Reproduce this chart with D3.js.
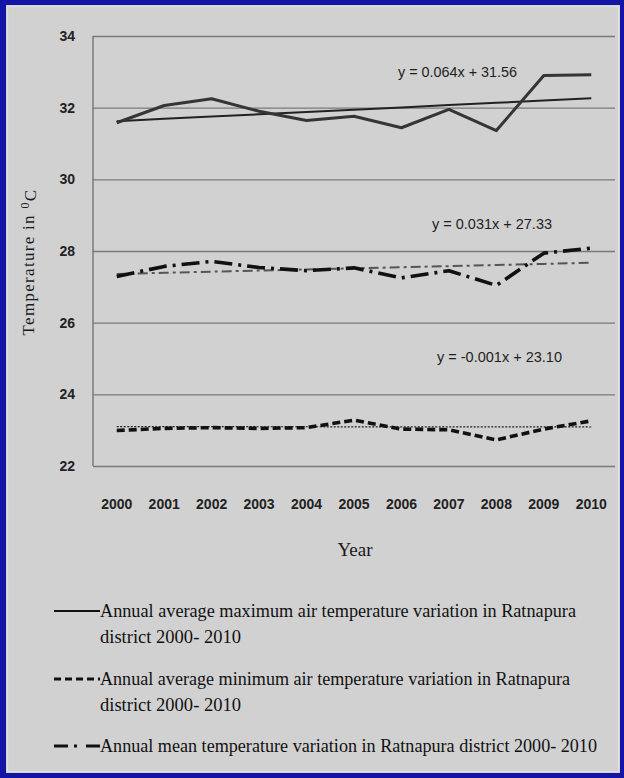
<!DOCTYPE html>
<html>
<head>
<meta charset="utf-8">
<script src="https://cdn.jsdelivr.net/npm/d3@7"></script>
<style>
  html, body { margin: 0; padding: 0; background: #fff; }
  svg { display: block; }
</style>
</head>
<body>
<div id="chart"></div>
<script>
// Ratnapura district annual temperatures, 2000-2010
const years = ["2000","2001","2002","2003","2004","2005","2006","2007","2008","2009","2010"];
const maxTemp  = [31.58, 32.06, 32.25, 31.90, 31.64, 31.76, 31.44, 31.95, 31.36, 32.90, 32.92];
const meanTemp = [27.29, 27.57, 27.71, 27.54, 27.45, 27.53, 27.25, 27.45, 27.04, 27.94, 28.08];
const minTemp  = [22.99, 23.05, 23.07, 23.05, 23.07, 23.28, 23.03, 23.01, 22.73, 23.03, 23.26];

// Linear trend coefficients (x = 1 .. 11)
const trendSlopes     = [0.064, 0.031, -0.001];
const trendIntercepts = [31.56, 27.33, 23.10];
const trendLabels     = ["y = 0.064x + 31.56", "y = 0.031x + 27.33", "y = -0.001x + 23.10"];

const yTicks = [22, 24, 26, 28, 30, 32, 34];

const legendLines = [
  ["Annual average maximum air temperature variation in Ratnapura", "district 2000- 2010"],
  ["Annual average minimum air temperature variation in Ratnapura", "district 2000- 2010"],
  ["Annual mean temperature variation in Ratnapura district 2000- 2010"]
];

const W = 624, H = 778;
const svg = d3.select("#chart").append("svg").attr("width", W).attr("height", H);

// frame
svg.append("rect").attr("x", 0).attr("y", 0).attr("width", W).attr("height", H).attr("fill", "#1414a6");
svg.append("rect").attr("x", 6).attr("y", 5).attr("width", W - 10).attr("height", H - 10).attr("fill", "#d1d1d1");
svg.append("rect").attr("x", 7.5).attr("y", 6.5).attr("width", W - 13).attr("height", H - 13)
  .attr("fill", "none").attr("stroke", "#dedede").attr("stroke-width", 1.5);

const plot = { left: 93, right: 615, top: 36, bottom: 466 };

const x = d3.scaleBand().domain(years).range([plot.left, plot.right]);
const xc = d => x(d) + x.bandwidth() / 2;
const y = d3.scaleLinear().domain([22, 34]).range([plot.bottom, plot.top]);

const sansFont = "'Liberation Sans', Arial, sans-serif";
const serifFont = "'Liberation Serif', 'Times New Roman', serif";

// gridlines and y tick labels
const yAxis = d3.axisLeft(y).tickValues(yTicks).tickSize(-(plot.right - plot.left)).tickPadding(18).tickFormat(d3.format("d"));
const gy = svg.append("g").attr("transform", `translate(${plot.left},0)`).call(yAxis);
gy.select(".domain").remove();
gy.selectAll(".tick line").attr("stroke", "#7a7a7a").attr("stroke-width", 1.4);
gy.selectAll(".tick text").attr("fill", "#222").style("font-family", sansFont)
  .style("font-size", "14px").style("font-weight", "bold");

// vertical axis line
svg.append("line").attr("x1", plot.left).attr("x2", plot.left).attr("y1", plot.top).attr("y2", plot.bottom)
  .attr("stroke", "#6e6e6e").attr("stroke-width", 1.3);

// x tick labels
const xAxis = d3.axisBottom(x).tickSize(0).tickPadding(0);
const gx = svg.append("g").attr("transform", `translate(0,${plot.bottom + 39})`).call(xAxis);
gx.select(".domain").remove();
gx.selectAll(".tick text").attr("fill", "#222").style("font-family", sansFont)
  .style("font-size", "14px").style("font-weight", "bold").attr("dy", "0.3em");

// axis titles
svg.append("text").attr("x", 355).attr("y", 556).attr("text-anchor", "middle")
  .style("font-family", serifFont).style("font-size", "19px").attr("fill", "#1a1a1a").text("Year");

const yt = svg.append("text").attr("transform", "translate(34,262) rotate(-90)").attr("text-anchor", "middle")
  .style("font-family", serifFont).style("font-size", "17px").attr("fill", "#1a1a1a")
  .style("letter-spacing", "1.3px");
yt.append("tspan").text("Temperature in  ");
yt.append("tspan").attr("dy", "-0.45em").style("font-size", "12px").text("0");
yt.append("tspan").attr("dy", "0.45em").text("C");

// series
const line = d3.line().x((d, i) => xc(years[i])).y(d => y(d));
const trendPts = k => years.map((yr, i) => trendIntercepts[k] + trendSlopes[k] * (i + 1));

const styles = {
  max:  { stroke: "#353535", width: 3, dash: null },
  min:  { stroke: "#111", width: 3.6, dash: "8,4" },
  mean: { stroke: "#111", width: 3.6, dash: "18,6,3,6" }
};

// trend lines
svg.append("path").attr("d", line(trendPts(0))).attr("fill", "none")
  .attr("stroke", "#222").attr("stroke-width", 2);
svg.append("path").attr("d", line(trendPts(1))).attr("fill", "none")
  .attr("stroke", "#555").attr("stroke-width", 2).attr("stroke-dasharray", "10,4,3,4");
svg.append("path").attr("d", line(trendPts(2))).attr("fill", "none")
  .attr("stroke", "#222").attr("stroke-width", 1.2).attr("stroke-dasharray", "2,1.5");

// data lines
[[maxTemp, styles.max], [meanTemp, styles.mean], [minTemp, styles.min]].forEach(([vals, s]) => {
  svg.append("path").attr("d", line(vals)).attr("fill", "none")
    .attr("stroke", s.stroke).attr("stroke-width", s.width)
    .attr("stroke-dasharray", s.dash).attr("stroke-linejoin", "round");
});

// trend equations
const eqPos = [[398, 77, 119], [432, 229, 120], [437, 362, 125]];
trendLabels.forEach((t, i) => {
  svg.append("text").attr("x", eqPos[i][0]).attr("y", eqPos[i][1])
    .attr("textLength", eqPos[i][2]).attr("lengthAdjust", "spacingAndGlyphs")
    .style("font-family", sansFont).style("font-size", "15px").attr("fill", "#1e1e1e").text(t);
});

// legend
const legY = [611, 679, 746];
const legWidths = [[476, 141], [470, 141], [497]];
const legDash = [null, "7,4", "14,6,3,9,14"];
legendLines.forEach((lines, i) => {
  svg.append("line").attr("x1", 54).attr("x2", 100).attr("y1", legY[i]).attr("y2", legY[i])
    .attr("stroke", "#111").attr("stroke-width", i === 0 ? 2 : 3).attr("stroke-dasharray", legDash[i]);
  lines.forEach((t, j) => {
    svg.append("text").attr("x", 100).attr("y", legY[i] + 6 + j * 26)
      .attr("textLength", legWidths[i][j]).attr("lengthAdjust", "spacingAndGlyphs")
      .style("font-family", serifFont).style("font-size", "18px").attr("fill", "#111").text(t);
  });
});
</script>
</body>
</html>
